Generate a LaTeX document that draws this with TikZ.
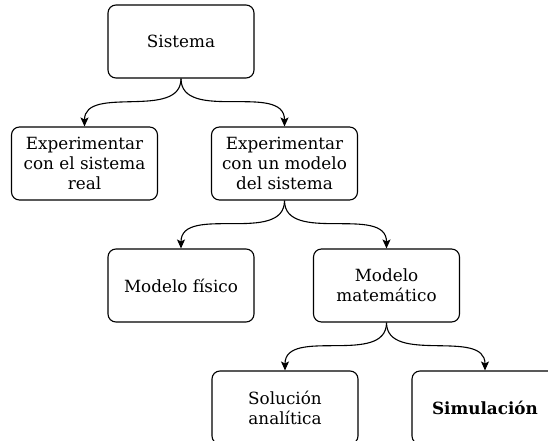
\documentclass[tikz,border=0pt]{standalone}
\usepackage{fontspec}
\setmainfont{DejaVu Serif}
\usetikzlibrary{arrows.meta,positioning}

\begin{document}
\begin{tikzpicture}[x=1pt,y=1pt,node distance=122pt,
        box/.style={draw,line width=1.1pt,rounded corners=8pt,minimum width=146pt,
            minimum height=73pt,align=center,font=\fontsize{16.8}{20}\selectfont},
        link/.style={line width=1.1pt,-{Stealth[length=9pt,width=8pt,inset=2pt]}}]

        \useasboundingbox (0,0) rectangle (548,-441);

        % Define boxes
        \node[box] (sistema) at (181,-41.5) {Sistema};
        \node[box] (real) [below of=sistema, xshift=-96.5pt] {Experimentar\\con el sistema\\real};
        \node[box] (modelo) [below of=sistema, xshift=103.5pt] {Experimentar\\con un modelo\\del sistema};
        \node[box] (fisico) [below of=modelo, xshift=-103.5pt] {Modelo físico};
        \node[box] (matematico) [below of=modelo, xshift=102pt] {Modelo\\matemático};
        \node[box] (analitica) [below of=matematico, xshift=-101.5pt] {Solución\\analítica};
        \node[box] (simulacion) [below of=matematico, xshift=98.5pt] {\bfseries Simulación};

        % Draw links
        \draw[link] (sistema.south) to[out=-90,in=90] (real.north);
        \draw[link] (sistema.south) to[out=-90,in=90] (modelo.north);
        \draw[link] (modelo.south) to[out=-90,in=90] (fisico.north);
        \draw[link] (modelo.south) to[out=-90,in=90] (matematico.north);
        \draw[link] (matematico.south) to[out=-90,in=90] (analitica.north);
        \draw[link] (matematico.south) to[out=-90,in=90] (simulacion.north);

\end{tikzpicture}
\end{document}
